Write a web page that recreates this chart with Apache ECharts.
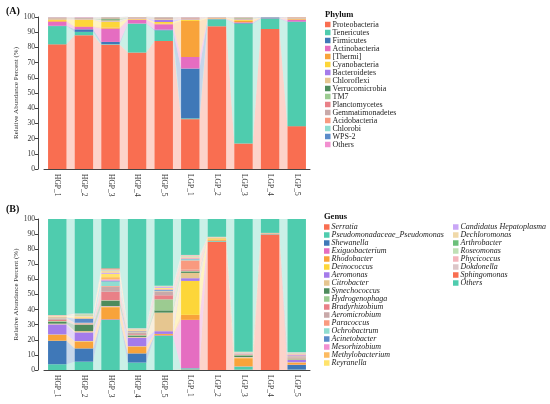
<!DOCTYPE html>
<html>
<head>
<meta charset="utf-8">
<script src="https://cdn.jsdelivr.net/npm/echarts@6/dist/echarts.min.js"></script>
<style>
html,body{margin:0;padding:0;background:#fff}
#chart{width:550px;height:404px}
</style>
</head>
<body>
<div id="chart"></div>
<script>
var samples = ['HGP_1','HGP_2','HGP_3','HGP_4','HGP_5','LGP_1','LGP_2','LGP_3','LGP_4','LGP_5'];

var phylumNames = ['Proteobacteria','Tenericutes','Firmicutes','Actinobacteria','[Thermi]','Cyanobacteria',
    'Bacteroidetes','Chloroflexi','Verrucomicrobia','TM7','Planctomycetes','Gemmatimonadetes',
    'Acidobacteria','Chlorobi','WPS-2','Others'];
var phylumColors = ['#f96e51','#4fccae','#3f78b8','#e56dc1','#f8a33a','#fdd639','#a47bea','#e6c690',
    '#4e8b5c','#9ccb91','#e98087','#c8a9a9','#f99a7f','#90ddd0','#5b8bc9','#f28fd0'];

// phylum % per sample, same order as phylumNames
var pHGP1 = [82.0, 12.0, 0.2, 2.7, 0.5, 1.0, 0.2, 0.3, 0.1, 0.1, 0.2, 0.4, 0.1, 0.1, 0, 0.1];
var pHGP2 = [88.0, 2.2, 1.7, 1.5, 0.5, 4.3, 0.2, 0.3, 0.2, 0.1, 0.2, 0.4, 0.1, 0.1, 0, 0.2];
var pHGP3 = [81.8, 0.3, 1.5, 8.7, 0.8, 3.6, 0.3, 0.8, 0.7, 0.6, 0.3, 0.4, 0.1, 0.1, 0, 0];
var pHGP4 = [76.6, 19.0, 0.1, 2.5, 0.2, 0.5, 0.3, 0.2, 0.1, 0.1, 0.1, 0.2, 0.1, 0, 0.1, 0];
var pHGP5 = [84.2, 7.0, 0.5, 3.5, 0.5, 1.0, 1.5, 0.5, 0.2, 0.1, 0.3, 0.5, 0.1, 0.1, 0, 0];
var pLGP1 = [32.8, 0.5, 32.8, 7.6, 23.7, 0.8, 0.3, 0.3, 0.1, 0.1, 0.3, 0.4, 0.1, 0.1, 0, 0.1];
var pLGP2 = [93.9, 4.6, 0.1, 0.3, 0.2, 0.2, 0.1, 0.1, 0, 0, 0.1, 0.2, 0.1, 0.1, 0, 0];
var pLGP3 = [16.8, 78.8, 0.4, 0.5, 1.0, 0.8, 0.3, 0.4, 0.2, 0.1, 0.2, 0.3, 0.1, 0.1, 0, 0];
var pLGP4 = [92.1, 6.8, 0.3, 0.1, 0.1, 0.1, 0.1, 0, 0, 0, 0, 0.1, 0, 0, 0.3, 0];
var pLGP5 = [28.2, 68.5, 0.3, 1.2, 0.4, 0.3, 0.2, 0.2, 0.1, 0.1, 0.1, 0.2, 0.2, 0, 0, 0];

var genusNames = ['Serratia','Pseudomonadaceae_Pseudomonas','Shewanella','Exiguobacterium','Rhodobacter',
    'Deinococcus','Aeromonas','Citrobacter','Synechococcus','Hydrogenophaga','Bradyrhizobium',
    'Aeromicrobium','Paracoccus','Ochrobactrum','Acinetobacter','Mesorhizobium','Methylobacterium',
    'Reyranella','Candidatus Hepatoplasma','Dechloromonas','Arthrobacter','Roseomonas','Phycicoccus',
    'Dokdonella','Sphingomonas','Others (genus)'];
var genusColors = ['#f96e51','#4fccae','#3f78b8','#e56dc1','#f8a33a','#fdd639','#a47bea','#e6c690',
    '#4e8b5c','#9ccb91','#e98087','#c8a9a9','#f99a7f','#90ddd0','#5b8bc9','#f28fd0','#fdbb61',
    '#ffe36b','#c9a6f6','#f0d9a9','#6cc07a','#bfe0b5','#f4b4bb','#dcc6c8','#f96e51','#4fccae'];

// genus % per sample, same order as genusNames
var gHGP1 = [0, 3.8, 15.6, 0, 3.8, 0.3, 6.7, 0.5, 1.2, 0.5, 0.8, 0.6, 0.4, 0.3, 0.2, 0.1, 0.3, 0.3, 0.1, 0.3, 0.1, 0.1, 0.2, 0.1, 0.1, 63.6];
var gHGP2 = [0, 5.5, 8.8, 0, 4.5, 0.3, 5.8, 0.9, 4.0, 0.4, 0.4, 0.3, 0.2, 0.2, 2.7, 0.1, 0.6, 0.5, 0.2, 0.8, 0.2, 0.6, 0.2, 0.3, 0, 62.5];
var gHGP3 = [0, 33.1, 0.3, 0.2, 8.0, 0.2, 0.3, 0.3, 3.5, 0.3, 5.6, 3.3, 0.5, 3.0, 0.6, 0.8, 1.5, 2.1, 0.6, 1.5, 0.2, 0.2, 0.3, 0.3, 0.6, 32.7];
var gHGP4 = [0, 4.9, 6.1, 0, 4.5, 0.2, 5.7, 0.5, 0.8, 0.4, 0.6, 0.8, 0.4, 0.3, 0.4, 0.1, 0.4, 0.3, 0.2, 0.5, 0.1, 0.1, 0.2, 0.1, 0, 72.4];
var gHGP5 = [0, 22.5, 0.3, 0.2, 0.8, 0.1, 1.8, 12.3, 1.5, 7.3, 2.7, 2.2, 0.4, 0.4, 0.6, 0.3, 0.4, 0.5, 0.6, 0.3, 0.1, 0.1, 0.2, 0.2, 0, 44.2];
var gLGP1 = [0.3, 0.8, 0.1, 32.0, 3.3, 22.5, 1.8, 3.5, 0.9, 0.3, 0.6, 0.3, 6.2, 0.7, 0.3, 0.4, 0.3, 0.3, 0.2, 0.4, 0.1, 0.3, 0.3, 0.2, 0.1, 23.8];
var gLGP2 = [85.0, 0.4, 0.1, 0.1, 0.8, 0.8, 0.1, 0.1, 0, 0, 0.1, 0.1, 0.1, 0, 0, 0, 0.1, 0.1, 0, 0.1, 0, 0, 0, 0.1, 0.1, 11.8];
var gLGP3 = [0.2, 2.0, 0.1, 0.1, 5.4, 0.3, 0.2, 0.3, 1.0, 0.3, 0.3, 0.3, 0.1, 0.1, 0.1, 0.1, 0.1, 0.1, 0.2, 0.2, 0.1, 0.1, 0.2, 0.2, 0, 87.9];
var gLGP4 = [89.8, 0.2, 0.1, 0, 0.1, 0.1, 0, 0.1, 0, 0, 0.1, 0.1, 0.1, 0, 0, 0, 0, 0, 0, 0, 0, 0, 0, 0, 0.1, 9.2];
var gLGP5 = [0.1, 0.2, 3.0, 0.2, 1.4, 0.2, 1.6, 0.4, 0.3, 0.3, 0.5, 0.6, 0.3, 0.1, 0.4, 0.6, 0.2, 0.1, 0.2, 0.3, 0.1, 0.1, 0.2, 0.3, 0, 88.3];

var yTicks = [0, 100, 10];

var phylumRows = [pHGP1, pHGP2, pHGP3, pHGP4, pHGP5, pLGP1, pLGP2, pLGP3, pLGP4, pLGP5];
var genusRows = [gHGP1, gHGP2, gHGP3, gHGP4, gHGP5, gLGP1, gLGP2, gLGP3, gLGP4, gLGP5];

var SERIF = 'Liberation Serif';
var BAR_FRAC = 0.695;

// bottom of layer k in sample i
function baseOf(rows, k, i) {
    var s = 0;
    for (var j = 0; j < k; j++) s += rows[i][j];
    return s;
}

// pale bands that link each layer between neighbouring bars
function bandSeries(rows, colors, gi) {
    var data = [];
    for (var k = 0; k < colors.length; k++) {
        for (var i = 0; i < rows.length - 1; i++) data.push([i, k]);
    }
    return {
        type: 'custom',
        xAxisIndex: gi,
        yAxisIndex: gi,
        silent: true,
        z: 1,
        data: data,
        renderItem: function (params, api) {
            var i = api.value(0), k = api.value(1);
            var b0 = baseOf(rows, k, i), b1 = baseOf(rows, k, i + 1);
            var t0 = b0 + rows[i][k], t1 = b1 + rows[i + 1][k];
            if (t0 - b0 <= 0 && t1 - b1 <= 0) return null;
            var half = api.size([1, 0])[0] * BAR_FRAC / 2;
            var a = api.coord([i, b0]), b = api.coord([i, t0]);
            var c = api.coord([i + 1, t1]), d = api.coord([i + 1, b1]);
            return {
                type: 'polygon',
                shape: {points: [[a[0] + half, a[1]], [b[0] + half, b[1]], [c[0] - half, c[1]], [d[0] - half, d[1]]]},
                style: {fill: colors[k], opacity: 0.3}
            };
        }
    };
}

function barSeries(names, colors, rows, gi) {
    var list = [];
    for (var k = 0; k < names.length; k++) {
        list.push({
            name: names[k],
            type: 'bar',
            stack: 'panel' + gi,
            xAxisIndex: gi,
            yAxisIndex: gi,
            barWidth: (BAR_FRAC * 100) + '%',
            itemStyle: {color: colors[k]},
            z: 3,
            data: rows.map(function (r) { return r[k]; })
        });
    }
    list.push(bandSeries(rows, colors, gi));
    return list;
}

function xAxisOf(gi) {
    return {
        type: 'category',
        gridIndex: gi,
        data: samples,
        axisLine: {lineStyle: {color: '#444', width: 1}},
        axisTick: {alignWithLabel: true, length: 3, lineStyle: {color: '#444'}},
        axisLabel: {rotate: -90, fontFamily: SERIF, fontSize: 7.5, color: '#333', margin: 5}
    };
}

function yAxisOf(gi) {
    return {
        type: 'value',
        gridIndex: gi,
        min: yTicks[0],
        max: yTicks[1],
        interval: yTicks[2],
        offset: 6,
        name: 'Relative Abundance Percent (%)',
        nameLocation: 'middle',
        nameGap: 17,
        nameTextStyle: {fontFamily: SERIF, fontSize: 7, color: '#333'},
        axisLine: {show: true, lineStyle: {color: '#444', width: 1}},
        axisTick: {show: true, length: 3, lineStyle: {color: '#444'}},
        axisLabel: {fontFamily: SERIF, fontSize: 7.5, color: '#333', margin: 3},
        splitLine: {show: false}
    };
}

function legendOf(data, left, top, italic) {
    return {
        orient: 'vertical',
        left: left,
        top: top,
        padding: 0,
        itemGap: 0,
        itemWidth: 5.5,
        itemHeight: 5.5,
        icon: 'rect',
        data: data,
        formatter: function (n) { return n.replace(' (genus)', ''); },
        textStyle: {fontFamily: SERIF, fontSize: 8, lineHeight: 7.55, color: '#222',
            fontStyle: italic ? 'italic' : 'normal', padding: [0, 0, 0, -3]}
    };
}

var titleFont = {fontFamily: SERIF, fontWeight: 'bold', color: '#111'};

var option = {
    animation: false,
    backgroundColor: '#fff',
    title: [
        {text: '(A)', left: 6, top: 6, padding: 0, textStyle: Object.assign({fontSize: 10}, titleFont)},
        {text: '(B)', left: 6, top: 204, padding: 0, textStyle: Object.assign({fontSize: 10}, titleFont)},
        {text: 'Phylum', left: 325, top: 10, padding: 0, textStyle: Object.assign({fontSize: 8.5}, titleFont)},
        {text: 'Genus', left: 324, top: 212, padding: 0, textStyle: Object.assign({fontSize: 8.5}, titleFont)}
    ],
    legend: [
        legendOf(phylumNames, 325, 20.5, false),
        legendOf(genusNames.slice(0, 18), 324, 223, true),
        legendOf(genusNames.slice(18), 453, 223, true)
    ],
    grid: [
        {left: 44, width: 266, top: 17, height: 152},
        {left: 44, width: 266, top: 219, height: 151}
    ],
    xAxis: [xAxisOf(0), xAxisOf(1)],
    yAxis: [yAxisOf(0), yAxisOf(1)],
    series: barSeries(phylumNames, phylumColors, phylumRows, 0)
        .concat(barSeries(genusNames, genusColors, genusRows, 1))
};

var myChart = echarts.init(document.getElementById('chart'));
myChart.setOption(option);
</script>
</body>
</html>
